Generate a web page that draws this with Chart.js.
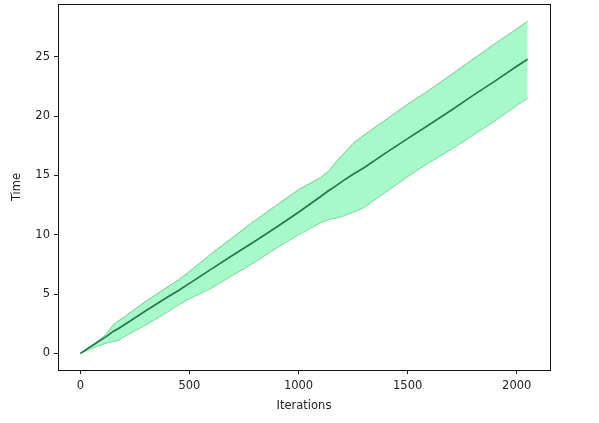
<!DOCTYPE html>
<html>
<head>
<meta charset="utf-8">
<script src="https://cdn.jsdelivr.net/npm/chart.js@4"></script>
<style>
  html, body { margin: 0; padding: 0; background: #fff; }
  #wrap { width: 599px; height: 423px; }
</style>
</head>
<body>
<div id="wrap"><canvas id="chart" width="599" height="423"></canvas></div>
<script>
// values
const iters = [0, 50, 100, 125, 150, 175, 200, 300, 400, 450, 500, 600, 700, 800, 900, 1000, 1100, 1140, 1170, 1200, 1250, 1300, 1400, 1500, 1600, 1700, 1800, 1900, 2000, 2050];
const meanTime = [0, 0.6, 1.2, 1.5, 1.85, 2.1, 2.4, 3.6, 4.75, 5.3, 5.9, 7.1, 8.3, 9.45, 10.65, 11.9, 13.2, 13.75, 14.1, 14.5, 15.1, 15.65, 16.9, 18.1, 19.3, 20.5, 21.75, 22.95, 24.2, 24.8];
const upperTime = [0, 0.65, 1.3, 1.75, 2.4, 2.75, 3.05, 4.4, 5.6, 6.2, 6.9, 8.4, 9.8, 11.2, 12.5, 13.8, 14.8, 15.4, 16.1, 16.7, 17.7, 18.4, 19.7, 21.0, 22.2, 23.5, 24.8, 26.1, 27.35, 28.0];
const lowerTime = [0, 0.4, 0.75, 0.9, 1.0, 1.1, 1.4, 2.4, 3.5, 4.1, 4.6, 5.5, 6.6, 7.7, 8.9, 10.0, 11.0, 11.3, 11.4, 11.55, 11.9, 12.3, 13.6, 14.9, 16.1, 17.2, 18.4, 19.6, 20.9, 21.5];
const xTicks = [0, 500, 1000, 1500, 2000];
const yTicks = [0, 5, 10, 15, 20, 25];

const toPts = ys => iters.map((x, i) => ({x: x, y: ys[i]}));
const font = {family: "'DejaVu Sans', sans-serif", size: 11.5};
const noPad = s => { s.paddingTop = 0; s.paddingBottom = 0; s.paddingLeft = 0; s.paddingRight = 0; };

// matplotlib style box round the plot area
const boxPlugin = {
  id: "box",
  afterDraw(chart) {
    const a = chart.chartArea, c = chart.ctx;
    c.save();
    c.strokeStyle = "#111";
    c.lineWidth = 1;
    c.strokeRect(Math.round(a.left) + 0.5, Math.round(a.top) + 0.5, Math.round(a.right - a.left), Math.round(a.bottom - a.top));
    c.restore();
  }
};

new Chart(document.getElementById("chart"), {
  type: "line",
  data: {
    datasets: [
      {data: toPts(upperTime), fill: "+1", order: 1, backgroundColor: "rgba(110,245,165,0.6)", borderColor: "rgba(70,190,110,0.75)", borderWidth: 1, pointRadius: 0, tension: 0},
      {data: toPts(lowerTime), fill: false, order: 1, borderColor: "rgba(70,190,110,0.75)", borderWidth: 1, pointRadius: 0, tension: 0},
      {data: toPts(meanTime), fill: false, order: 0, borderColor: "#217a46", borderWidth: 1.7, pointRadius: 0, tension: 0}
    ]
  },
  options: {
    responsive: false,
    animation: false,
    events: [],
    layout: {padding: {top: 4, right: 49, left: 0, bottom: 0}},
    plugins: {legend: {display: false}, tooltip: {enabled: false}},
    scales: {
      x: {
        type: "linear",
        min: -102.5,
        max: 2152.5,
        afterBuildTicks: s => { s.ticks = xTicks.map(v => ({value: v})); },
        afterFit: s => { s.height = 53; noPad(s); },
        grid: {drawOnChartArea: false, color: "#222", tickLength: 4, tickColor: "#222"},
        border: {display: false},
        ticks: {font: font, color: "#222", padding: 5, maxRotation: 0, callback: v => String(v)},
        title: {display: true, text: "Iterations", font: font, color: "#222", padding: {top: 0, bottom: 10}}
      },
      y: {
        min: -1.4,
        max: 29.45,
        afterBuildTicks: s => { s.ticks = yTicks.map(v => ({value: v})); },
        afterFit: s => { s.width = 58; noPad(s); },
        grid: {drawOnChartArea: false, color: "#222", tickLength: 4, tickColor: "#222"},
        border: {display: false},
        ticks: {font: font, color: "#222", padding: 4, callback: v => String(v)},
        title: {display: true, text: "Time", font: font, color: "#222", padding: {top: 10, bottom: 0}}
      }
    }
  },
  plugins: [boxPlugin]
});
</script>
</body>
</html>
